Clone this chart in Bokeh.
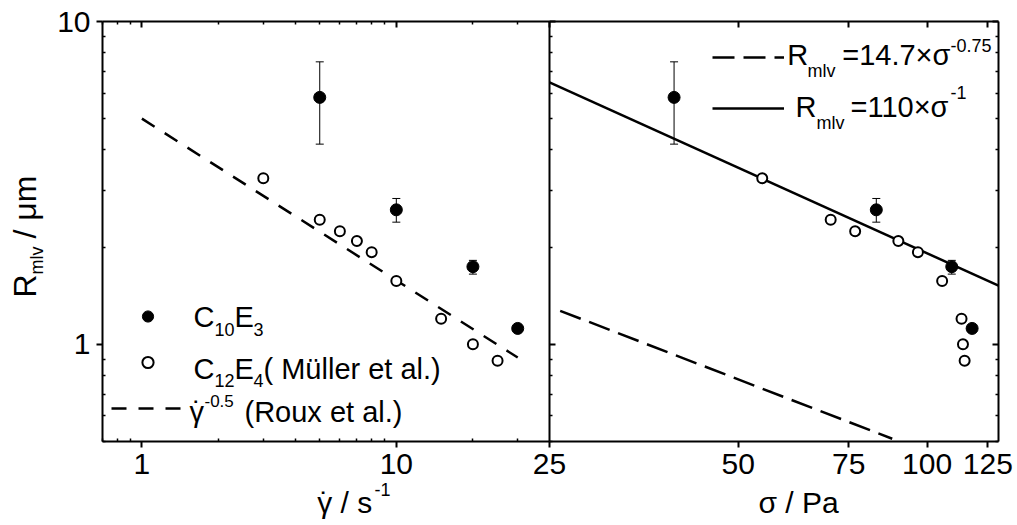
import numpy as np
from bokeh.plotting import figure
from bokeh.models import (LogAxis, FixedTicker, PrintfTickFormatter, CustomJSTickFormatter, Label,
                          Legend, LegendItem, Whisker, TeeHead, ColumnDataSource, Range1d, LogScale)
from bokeh.core.properties import value
from bokeh.embed import file_html
from bokeh.resources import INLINE

# ---------------- data ----------------
c10e3_shear = [5, 10, 20, 30]
c10e3_stress = [39.5, 83.0, 109.5, 118.0]
c10e3_R = [5.82, 2.61, 1.74, 1.12]
c10e3_R_hi = [7.50, 2.83, 1.82, 1.12]
c10e3_R_lo = [4.17, 2.39, 1.65, 1.12]

c12e4_shear = [3, 5, 6, 7, 8, 10, 15, 20, 25]
c12e4_stress = [54.6, 70.2, 76.8, 90.0, 96.7, 105.7, 113.5, 114.1, 114.8]
c12e4_R = [3.27, 2.43, 2.24, 2.09, 1.93, 1.57, 1.20, 1.00, 0.89]

roux_shear = [1.0, 30.0]
roux_R = [5.0, 0.91]

fit_dash_stress = [26.0, 88.0]
fit_dash_R = [1.27, 0.51]
fit_solid_stress = [25.0, 130.0]
fit_solid_R = [6.48, 1.52]

R_range = (0.5, 10)
shear_range = (0.7, 40)
stress_range = (25, 130)
y_ticks = [1, 10]
y_minor = [0.5, 0.6, 0.7, 0.8, 0.9, 2, 3, 4, 5, 6, 7, 8, 9]
shear_ticks = [1, 10]
shear_minor = [0.7, 0.8, 0.9, 2, 3, 4, 5, 6, 7, 8, 9, 20, 30]
stress_ticks = [25, 50, 75, 100, 125]

FONT = "Liberation Sans"
WIN_W, WIN_H = 1017, 525
W1, W2, H = 447, 449, 420     # panel widths and height in pixels
L1, T = 102, 21               # left / top edge of the panels
MID = 0.3465                  # text middle above the baseline, in em


def fx1(px):
    return 10 ** (np.log10(shear_range[0]) + (px - L1) / W1 * np.log10(shear_range[1] / shear_range[0]))


def fx2(px):
    return 10 ** (np.log10(stress_range[0]) + (px - (L1 + W1)) / W2 * np.log10(stress_range[1] / stress_range[0]))


def fy(py):
    return 10 ** (np.log10(R_range[1]) - (py - T) / H * np.log10(R_range[1] / R_range[0]))


p = figure(x_axis_type="log", y_axis_type="log",
           x_range=Range1d(fx1(0), fx1(WIN_W)), y_range=Range1d(fy(WIN_H), fy(0)),
           width=WIN_W, height=WIN_H, min_border=0, title=None,
           x_axis_location=None, y_axis_location=None,
           output_backend="svg", toolbar_location=None, tools="")
p.extra_x_ranges = {"stress": Range1d(fx2(0), fx2(WIN_W))}
p.extra_x_scales = {"stress": LogScale()}
p.xgrid.visible = False
p.ygrid.visible = False
p.outline_line_color = None
p.background_fill_color = "white"
p.border_fill_color = "white"

EMPTY = CustomJSTickFormatter(code="return '';")
INT = PrintfTickFormatter(format="%d")


def add_axis(place, ticks, minor, fmt, loc, bounds, outside, xname="default", standoff=0):
    ax = LogAxis(ticker=FixedTicker(ticks=ticks, minor_ticks=minor), formatter=fmt,
                 fixed_location=loc, bounds=bounds, x_range_name=xname)
    ax.axis_line_color = "black"
    ax.axis_line_width = 2
    ax.major_tick_line_color = "black"
    ax.major_tick_line_width = 2
    ax.minor_tick_line_color = "black"
    ax.minor_tick_line_width = 1.5
    if outside:
        ax.major_tick_out, ax.major_tick_in = 6, 0
    else:
        ax.major_tick_out, ax.major_tick_in = 0, 6
    ax.minor_tick_out, ax.minor_tick_in = 0, 3
    ax.major_label_text_font = FONT
    ax.major_label_text_font_size = "30px"
    ax.major_label_text_color = "black"
    ax.major_label_standoff = standoff
    p.add_layout(ax, place)
    return ax


# left panel (shear rate)
add_axis("below", shear_ticks, shear_minor, INT, R_range[0], shear_range, True, standoff=6)
add_axis("above", shear_ticks, shear_minor, EMPTY, R_range[1], shear_range, False)
add_axis("left", y_ticks, y_minor, INT, shear_range[0], R_range, True, standoff=6)
add_axis("left", y_ticks, y_minor, EMPTY, shear_range[1], R_range, False)
# right panel (stress)
add_axis("below", stress_ticks, [], INT, R_range[0], stress_range, True, xname="stress", standoff=6)
add_axis("above", stress_ticks, [], EMPTY, R_range[1], stress_range, False, xname="stress")
add_axis("right", y_ticks, y_minor, EMPTY, fx1(L1 + W1 + W2), R_range, False)

src_c10 = ColumnDataSource(dict(shear=c10e3_shear, stress=c10e3_stress, R=c10e3_R,
                                hi=c10e3_R_hi, lo=c10e3_R_lo))
src_c12 = ColumnDataSource(dict(shear=c12e4_shear, stress=c12e4_stress, R=c12e4_R))


def whisker(base, xname):
    return Whisker(base=base, upper="hi", lower="lo", source=src_c10, line_color="black",
                   line_width=1, x_range_name=xname,
                   upper_head=TeeHead(size=8, line_width=1, line_color="black"),
                   lower_head=TeeHead(size=8, line_width=1, line_color="black"))


# left panel marks
p.add_layout(whisker("shear", "default"))
r_roux = p.line(roux_shear, roux_R, line_color="black", line_width=2.5, line_dash="15 12")
r_c12 = p.scatter("shear", "R", source=src_c12, marker="circle", size=10, fill_color="white",
                  line_color="black", line_width=2)
r_c10 = p.scatter("shear", "R", source=src_c10, marker="circle", size=12, fill_color="black",
                  line_color="black", line_width=1)

# right panel marks
p.add_layout(whisker("stress", "stress"))
r_fd = p.line(fit_dash_stress, fit_dash_R, line_color="black", line_width=2.5, line_dash="22 9",
              x_range_name="stress")
r_fs = p.line(fit_solid_stress, fit_solid_R, line_color="black", line_width=2.5, x_range_name="stress")
p.scatter("stress", "R", source=src_c12, marker="circle", size=10, fill_color="white",
          line_color="black", line_width=2, x_range_name="stress")
p.scatter("stress", "R", source=src_c10, marker="circle", size=12, fill_color="black",
          line_color="black", line_width=1, x_range_name="stress")


def legend(items, loc, gw, spacing):
    return Legend(items=[LegendItem(label=value(" "), renderers=[r]) for r in items],
                  location=loc, glyph_width=gw, glyph_height=28, spacing=spacing, padding=0, margin=0,
                  label_height=0, label_width=0, label_standoff=0, label_text_font_size="8px",
                  border_line_color=None, background_fill_alpha=0)


p.add_layout(legend([r_c10, r_c12, r_roux], (111, WIN_H - 422), 73, 18))
p.add_layout(legend([r_fd, r_fs], (711.7, WIN_H - 122), 72, 23))


def add_text(px, py, text, size, rotated=False, align="left"):
    """px, py: start of the text on its baseline, in window pixels."""
    if rotated:
        x, y, angle = px - MID * size, py, np.pi / 2
    else:
        x, y, angle = px, py - MID * size, 0.0
    p.add_layout(Label(x=fx1(x), y=fy(y), text=text, text_font=FONT, text_font_size=f"{size}px",
                       text_color="black", text_baseline="middle", text_align=align, angle=angle))


texts = [
    # left legend
    ("C", 193, 326.7, 29), ("10", 214, 335, 18), ("E", 234, 326.7, 29), ("3", 253, 335, 18),
    ("C", 193, 378.3, 29), ("12", 214, 386.5, 18), ("E", 234, 378.3, 29), ("4", 253, 386.5, 18),
    ("( Müller et al.)", 263, 378.3, 29),
    ("γ", 189, 421.7, 29), ("-0.5", 204, 406.7, 17), ("(Roux et al.)", 244, 421.7, 29),
    # right legend
    ("R", 786.7, 65, 29), ("mlv", 807, 77, 18), ("=14.7×σ", 841.7, 65, 29), ("-0.75", 950, 51.7, 18),
    ("R", 795, 116.7, 29), ("mlv", 816, 128.5, 18), ("=110×σ", 850, 116.7, 29), ("-1", 950, 98, 18),
    # x titles
    ("γ / s", 316.7, 512, 30), ("-1", 374, 495, 18),
    ("σ / Pa", 758, 512, 30),
]
for txt, px, py, sz in texts:
    add_text(px, py, txt, sz)

# dots over gamma (shear-rate symbol)
add_text(196.5, 421.7, "˙", 29, align="center")
add_text(324, 512, "˙", 30, align="center")

# rotated y title
add_text(36, 297, "R", 32, rotated=True)
add_text(43, 274, "mlv", 18, rotated=True)
add_text(36, 238, "/ μm", 32, rotated=True)

open("out.html", "w").write(file_html(p, INLINE))
